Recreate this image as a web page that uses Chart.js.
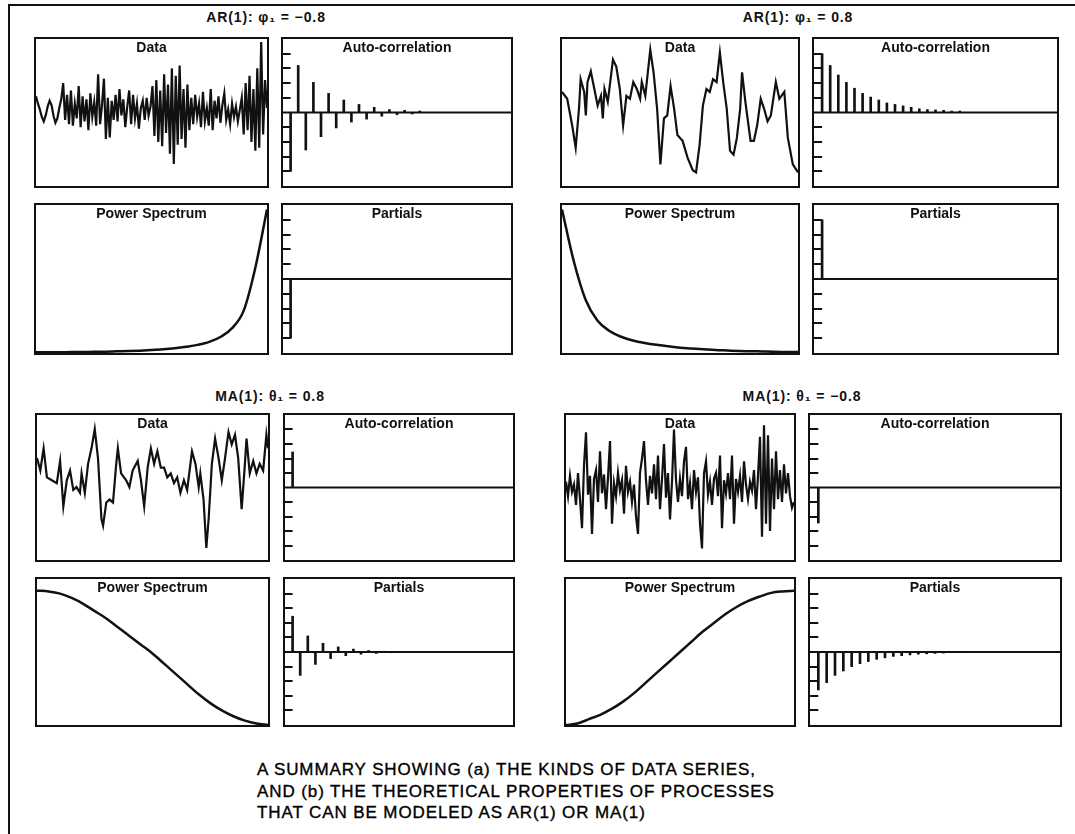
<!DOCTYPE html>
<html>
<head>
<meta charset="utf-8">
<script src="https://cdn.jsdelivr.net/npm/chart.js@4.4.0/dist/chart.umd.min.js"></script>
<style>
  body { margin: 0; background: #fff; }
  #page { position: relative; width: 1075px; height: 834px; overflow: hidden; font-family: "Liberation Sans", Arial, sans-serif; color: #111; }
  .frame { position: absolute; left: 8px; top: 4px; width: 1090px; height: 850px; border-left: 2px solid #111; border-top: 2px solid #111; }
  .panel { position: absolute; border: 2px solid #111; box-sizing: border-box; background: #fff; }
  .panel canvas { display: block; }
  .gtitle { position: absolute; font-weight: bold; font-size: 14px; letter-spacing: 0.9px; white-space: nowrap; transform: translateX(-50%); }
  .caption { position: absolute; left: 257px; top: 759px; font-size: 17px; letter-spacing: 0.9px; line-height: 21.5px; white-space: nowrap; color: #000; -webkit-text-stroke: 0.35px #000; }
</style>
</head>
<body>
<div id="page">
  <div class="frame"></div>
  <div class="caption">A SUMMARY SHOWING (a) THE KINDS OF DATA SERIES,<br>AND (b) THE THEORETICAL PROPERTIES OF PROCESSES<br>THAT CAN BE MODELED AS AR(1) OR MA(1)</div>
</div>
<script>
// ---------- data ----------

// AR(1), phi = -0.8 : simulated series (index spaced)
const arNegSeries = [
  1.1, 0.6, 0.2, -0.3, -0.6, -0.2, 0.4, 0.8, 0.5, -0.2, -0.7, -0.4, 0.3, 0.9,
  2.0, -0.5, 1.2, -0.8, 1.5, -0.9, 0.6, -0.4, 1.8, -1.0, 1.1, -0.6, 0.9, -1.2, 1.3, -0.3, 0.7, -0.9,
  2.6, -0.8, 0.5, 2.3, -1.8, 1.0, -1.7, 0.8, -0.5,
  1.2, -0.6, 1.6, -0.2, 0.9, -1.0, 0.4, 1.5, -0.8, 1.2, -0.4, 0.6, -1.1, 0.3, 0.8, -0.5, 1.0, -0.2, 0.4,
  1.8, -1.6, 2.2, -2.0, 1.5, -2.3, 2.6, -1.4, 1.9, -2.8, 3.0, -3.5, 2.5, -2.2, 3.2, -1.8, 1.6, -2.4, 1.9, -1.2, 1.0,
  -0.8, 1.2, -0.3, 0.6, -1.0, 1.4, -0.6, 0.3, -0.9, 1.6, -1.2, 0.8, -0.4, 1.1, -0.7, 0.5, 1.3, -0.5, 0.2, -0.8, 0.6, -0.3, 0.4, -0.6, 0.2,
  1.0, -1.5, 2.0, -1.2, 2.5, -2.0, 1.6, -2.6, 3.0, -2.4, 4.8, -1.5, 2.2, 0.3
];

// AR(1), phi = 0.8 : simulated series (time 0..100)
const arPosTimes = [
  0, 2.2, 4.3, 5.8, 7.2, 7.9, 9.4, 10.1, 10.8, 12.2, 13.7, 15.1, 16.5, 17.3, 18.0, 19.4,
  21.6, 23.0, 24.5, 25.9, 27.3, 28.8, 30.2, 31.7, 33.1, 33.8, 35.3, 37.4, 38.8, 40.3,
  41.7, 43.2, 44.6, 46.0, 47.5, 48.9, 51.1, 53.2, 55.4, 56.8, 58.3, 59.7, 61.2, 62.6,
  64.0, 65.5, 66.9, 68.3, 69.8, 71.2, 72.7, 74.1, 75.5, 76.3, 77.7, 79.9, 81.3, 82.7,
  84.2, 85.6, 87.1, 88.5, 90.6, 92.1, 94.2, 95.7, 97.8, 100
];
const arPosValues = [
  1.4, 0.93, -0.87, -2.4, 0.27, 2.27, 1.4, -0.2, 2.07, 2.8, 1.6, 0.47, 1.13, -0.4, 1.6, 0.73,
  3.6, 3.13, 1.6, -0.87, 1.13, 0.93, 2.07, 1.6, 0.93, 2.07, 1.13, 4.27, 2.73, 0.27,
  -3.53, -0.4, -0.2, 1.8, 0.27, -1.53, -1.93, -3.07, -3.93, -4.07, -2.2, 0.47, 1.6, 1.4,
  2.27, 2.07, 4.07, 2.07, 0.27, -2.6, -2.87, -1.73, 0.27, 2.73, 0.73, -1.93, -1.93, -0.87,
  0.93, 0.27, -0.6, -0.2, 2.07, 0.93, 1.4, -1.73, -3.53, -4.07
];

// MA(1), theta = 0.8 : simulated series (time 0..100)
const maPosTimes = [
  0, 1.43, 2.86, 4.29, 6.43, 8.57, 10.0, 11.4, 12.9, 14.3, 15.7, 17.1, 18.6, 19.3, 20.7,
  22.1, 23.6, 25.0, 26.4, 27.9, 28.6, 30.0, 31.4, 32.9, 34.3, 35.0, 36.4, 38.6, 40.0,
  41.4, 43.6, 45.0, 46.4, 47.9, 49.3, 50.7, 52.1, 53.6, 55.0, 56.4, 57.9, 59.3, 60.7,
  62.1, 63.6, 65.0, 67.1, 68.6, 70.0, 70.7, 72.1, 73.3, 74.3, 75.7, 77.1, 78.6, 80.0,
  81.4, 82.9, 84.3, 85.7, 87.1, 88.6, 90.0, 90.7, 92.1, 93.6, 95.0, 96.4, 97.9, 99.3, 100
];
const maPosValues = [
  2.03, 1.17, 2.7, 0.7, 0.5, 0.3, 1.83, -1.3, 0.5, 1.17, -0.17, 0.03, -0.37, 0.97, -0.37,
  1.63, 2.7, 4.03, 2.03, -2.17, -2.63, -1.03, -0.83, -1.03, 1.63, 2.7, 0.97, 0.5, 0.03,
  1.17, 1.83, 0.5, -1.3, 1.37, 2.7, 1.63, 2.5, 1.37, 1.37, 0.7, 0.97, 0.3, 0.7,
  -0.37, 0.5, -0.17, 2.5, 1.63, 0.03, 0.97, -0.83, -4.17, -2.17, 1.63, 3.37, 2.03, 0.5,
  2.03, 3.83, 2.97, 3.63, 2.03, -1.5, 1.63, 3.37, 0.97, 1.83, 0.97, 1.63, 1.17, 3.63, 2.7
];

// MA(1), theta = -0.8 : simulated series (index spaced)
const maNegSeries = [
  0.4, -0.6, 0.8, -0.3, 0.2, -1.2, 1.0, -0.8, -2.8, 1.5,
  3.8, -0.5, 0.8, -3.2, 0.6, 1.2, -1.0, 2.5, -0.4, 0.9,
  -1.5, 0.7, 3.2, -2.5, 0.3, -0.6, 1.0, -0.2, 0.5, -1.8,
  1.5, -0.3, 0.4, -1.0, 0.2, -2.0, -3.2, 1.0, 2.0, 3.2,
  0.5, -1.2, 0.8, -0.4, 1.6, -0.8, 2.2, -1.5, 0.6, 3.0,
  -0.7, 1.0, -2.2, 0.4, 4.0, 0.5, -1.0, 0.6, -0.6, 1.8,
  2.8, -0.8, 0.3, -1.5, 1.2, -0.3, 0.7, -2.5, -4.2, 1.0,
  1.8, -0.5, 0.4, -1.2, 0.6, 1.0, -0.6, 2.2, -2.8, 0.5,
  -0.4, 1.0, -0.8, 2.2, -2.5, 0.6, -0.3, 0.8, -1.0, 1.8,
  0.2, -0.8, 0.4, -0.2, 1.2, -1.5, 0.8, 3.5, -3.4, 4.3,
  -2.5, 3.6, -3.0, 2.0, -1.5, 2.5, -0.8, 1.2, -1.0, 1.6, -0.4, 1.0, -0.6, -1.4, -1.0
];

// correlation lags and tick marks
const lags = [1, 2, 3, 4, 5, 6, 7, 8, 9, 10, 11, 12, 13, 14, 15, 16, 17, 18];
const corrTicks = [-0.8, -0.6, -0.4, -0.2, 0.2, 0.4, 0.6, 0.8];

const acfArNeg  = [-0.8, 0.64, -0.51, 0.41, -0.33, 0.26, -0.21, 0.17, -0.13, 0.11, -0.09, 0.07, -0.05, 0.04, -0.03, 0.03, -0.02, 0.02];
const pacfArNeg = [-0.8, 0, 0, 0, 0, 0, 0, 0, 0, 0, 0, 0, 0, 0, 0, 0, 0, 0];
const acfArPos  = [0.8, 0.64, 0.51, 0.41, 0.33, 0.26, 0.21, 0.17, 0.13, 0.11, 0.09, 0.07, 0.05, 0.04, 0.035, 0.03, 0.02, 0.02];
const pacfArPos = [0.8, 0, 0, 0, 0, 0, 0, 0, 0, 0, 0, 0, 0, 0, 0, 0, 0, 0];
const acfMaPos  = [0.49, 0, 0, 0, 0, 0, 0, 0, 0, 0, 0, 0, 0, 0, 0, 0, 0, 0];
const pacfMaPos = [0.49, -0.32, 0.22, -0.17, 0.12, -0.09, 0.07, -0.05, 0.04, -0.03, 0.02, -0.02, 0.01, -0.01, 0, 0, 0, 0];
const acfMaNeg  = [-0.49, 0, 0, 0, 0, 0, 0, 0, 0, 0, 0, 0, 0, 0, 0, 0, 0, 0];
const pacfMaNeg = [-0.52, -0.42, -0.32, -0.26, -0.2, -0.16, -0.13, -0.1, -0.08, -0.06, -0.05, -0.04, -0.03, -0.025, -0.02, -0.015, -0.01, -0.01];

// power spectra, frequency as fraction of the axis
const freqs = [0, 0.05, 0.1, 0.15, 0.2, 0.25, 0.3, 0.35, 0.4, 0.45, 0.5, 0.55, 0.6, 0.65, 0.7, 0.75, 0.8, 0.85, 0.9, 0.95, 1];
const specArNeg = [0.005, 0.005, 0.005, 0.006, 0.007, 0.008, 0.009, 0.011, 0.013, 0.016, 0.02, 0.025, 0.032, 0.042, 0.055, 0.075, 0.11, 0.17, 0.29, 0.58, 0.97];
const specArPos = [0.97, 0.62, 0.36, 0.22, 0.15, 0.11, 0.085, 0.068, 0.055, 0.045, 0.036, 0.03, 0.025, 0.02, 0.017, 0.014, 0.012, 0.01, 0.008, 0.007, 0.006];
const specMaPos = [0.92, 0.915, 0.9, 0.87, 0.83, 0.78, 0.73, 0.67, 0.61, 0.55, 0.49, 0.42, 0.35, 0.28, 0.21, 0.15, 0.1, 0.06, 0.03, 0.01, 0];
const specMaNeg = [0, 0.01, 0.04, 0.07, 0.11, 0.16, 0.22, 0.29, 0.36, 0.43, 0.5, 0.57, 0.64, 0.7, 0.76, 0.81, 0.85, 0.88, 0.905, 0.915, 0.92];

// ---------- layout ----------
const INK = '#111';
const FONT = '"Liberation Sans", Arial, sans-serif';

const groups = [
  { title: 'AR(1): \u03c6\u2081 = \u22120.8', tx: 266, ty: 9,
    cols: [34, 281], widths: [235, 232], rows: [37, 203], heights: [151, 152] },
  { title: 'AR(1): \u03c6\u2081 = 0.8', tx: 798, ty: 9,
    cols: [560, 812], widths: [240, 247], rows: [37, 203], heights: [151, 152] },
  { title: 'MA(1): \u03b8\u2081 =  0.8', tx: 270, ty: 388,
    cols: [35, 283], widths: [235, 232], rows: [413, 577], heights: [149, 150] },
  { title: 'MA(1): \u03b8\u2081 = \u22120.8', tx: 802, ty: 388,
    cols: [564, 808], widths: [232, 254], rows: [413, 577], heights: [149, 150] }
];

const page = document.getElementById('page');

function makePanel(x, y, w, h) {
  const div = document.createElement('div');
  div.className = 'panel';
  div.style.left = x + 'px';
  div.style.top = y + 'px';
  div.style.width = w + 'px';
  div.style.height = h + 'px';
  const cv = document.createElement('canvas');
  cv.width = w - 4;
  cv.height = h - 4;
  div.appendChild(cv);
  page.appendChild(div);
  return cv;
}

// panel title + zero line + inward tick marks
const panelDecor = {
  id: 'panelDecor',
  afterDatasetsDraw(chart, args, opts) {
    const { ctx, chartArea: a, scales } = chart;
    ctx.save();
    if (opts.corr) {
      const y0 = scales.y.getPixelForValue(0);
      ctx.strokeStyle = INK;
      ctx.lineWidth = 2;
      ctx.beginPath();
      ctx.moveTo(a.left, y0);
      ctx.lineTo(a.right, y0);
      const len = scales.x.getPixelForValue(1) - a.left;
      corrTicks.forEach(v => {
        const y = Math.round(scales.y.getPixelForValue(v));
        ctx.moveTo(a.left, y);
        ctx.lineTo(a.left + len, y);
      });
      ctx.stroke();
    }
    if (opts.title) {
      ctx.font = 'bold 14px ' + FONT;
      ctx.fillStyle = INK;
      ctx.textAlign = 'center';
      ctx.textBaseline = 'top';
      ctx.fillText(opts.title, (a.left + a.right) / 2, a.top + 2);
    }
    ctx.restore();
  }
};

const baseOptions = (title, corr) => ({
  responsive: false,
  animation: false,
  devicePixelRatio: 1,
  layout: { padding: 0 },
  plugins: { legend: { display: false }, tooltip: { enabled: false }, panelDecor: { title, corr } },
  elements: { point: { radius: 0 } }
});

function seriesChart(cv, xs, ys, title) {
  const opts = baseOptions(title, false);
  opts.scales = {
    x: { type: 'linear', display: false, min: xs[0], max: xs[xs.length - 1] },
    y: { display: false, min: -5, max: 5 }
  };
  new Chart(cv, {
    type: 'line',
    data: { datasets: [{ data: xs.map((x, i) => ({ x, y: ys[i] })), borderColor: INK, borderWidth: 2.2, tension: 0 }] },
    options: opts,
    plugins: [panelDecor]
  });
}

function corrChart(cv, vals, title) {
  const opts = baseOptions(title, true);
  opts.scales = {
    x: { type: 'linear', display: false, offset: false, min: 0, max: 30 },
    y: { display: false, min: -1, max: 1 }
  };
  new Chart(cv, {
    type: 'bar',
    data: { datasets: [{ data: lags.map((l, i) => ({ x: l, y: vals[i] })), backgroundColor: INK, barThickness: 2 }] },
    options: opts,
    plugins: [panelDecor]
  });
}

function spectrumChart(cv, vals, title) {
  const opts = baseOptions(title, false);
  opts.scales = {
    x: { type: 'linear', display: false, min: 0, max: 1 },
    y: { display: false, min: 0, max: 1 }
  };
  new Chart(cv, {
    type: 'line',
    data: { datasets: [{ data: freqs.map((f, i) => ({ x: f, y: vals[i] })), borderColor: INK, borderWidth: 2.5, cubicInterpolationMode: 'monotone' }] },
    options: opts,
    plugins: [panelDecor]
  });
}

const indexOf = arr => arr.map((v, i) => i);

const content = [
  { series: [indexOf(arNegSeries), arNegSeries], acf: acfArNeg, pacf: pacfArNeg, spec: specArNeg },
  { series: [arPosTimes, arPosValues], acf: acfArPos, pacf: pacfArPos, spec: specArPos },
  { series: [maPosTimes, maPosValues], acf: acfMaPos, pacf: pacfMaPos, spec: specMaPos },
  { series: [indexOf(maNegSeries), maNegSeries], acf: acfMaNeg, pacf: pacfMaNeg, spec: specMaNeg }
];

groups.forEach((g, k) => {
  const t = document.createElement('div');
  t.className = 'gtitle';
  t.style.left = g.tx + 'px';
  t.style.top = g.ty + 'px';
  t.textContent = g.title;
  page.appendChild(t);

  const c = content[k];
  seriesChart(makePanel(g.cols[0], g.rows[0], g.widths[0], g.heights[0]), c.series[0], c.series[1], 'Data');
  corrChart(makePanel(g.cols[1], g.rows[0], g.widths[1], g.heights[0]), c.acf, 'Auto-correlation');
  spectrumChart(makePanel(g.cols[0], g.rows[1], g.widths[0], g.heights[1]), c.spec, 'Power Spectrum');
  corrChart(makePanel(g.cols[1], g.rows[1], g.widths[1], g.heights[1]), c.pacf, 'Partials');
});
</script>
</body>
</html>
